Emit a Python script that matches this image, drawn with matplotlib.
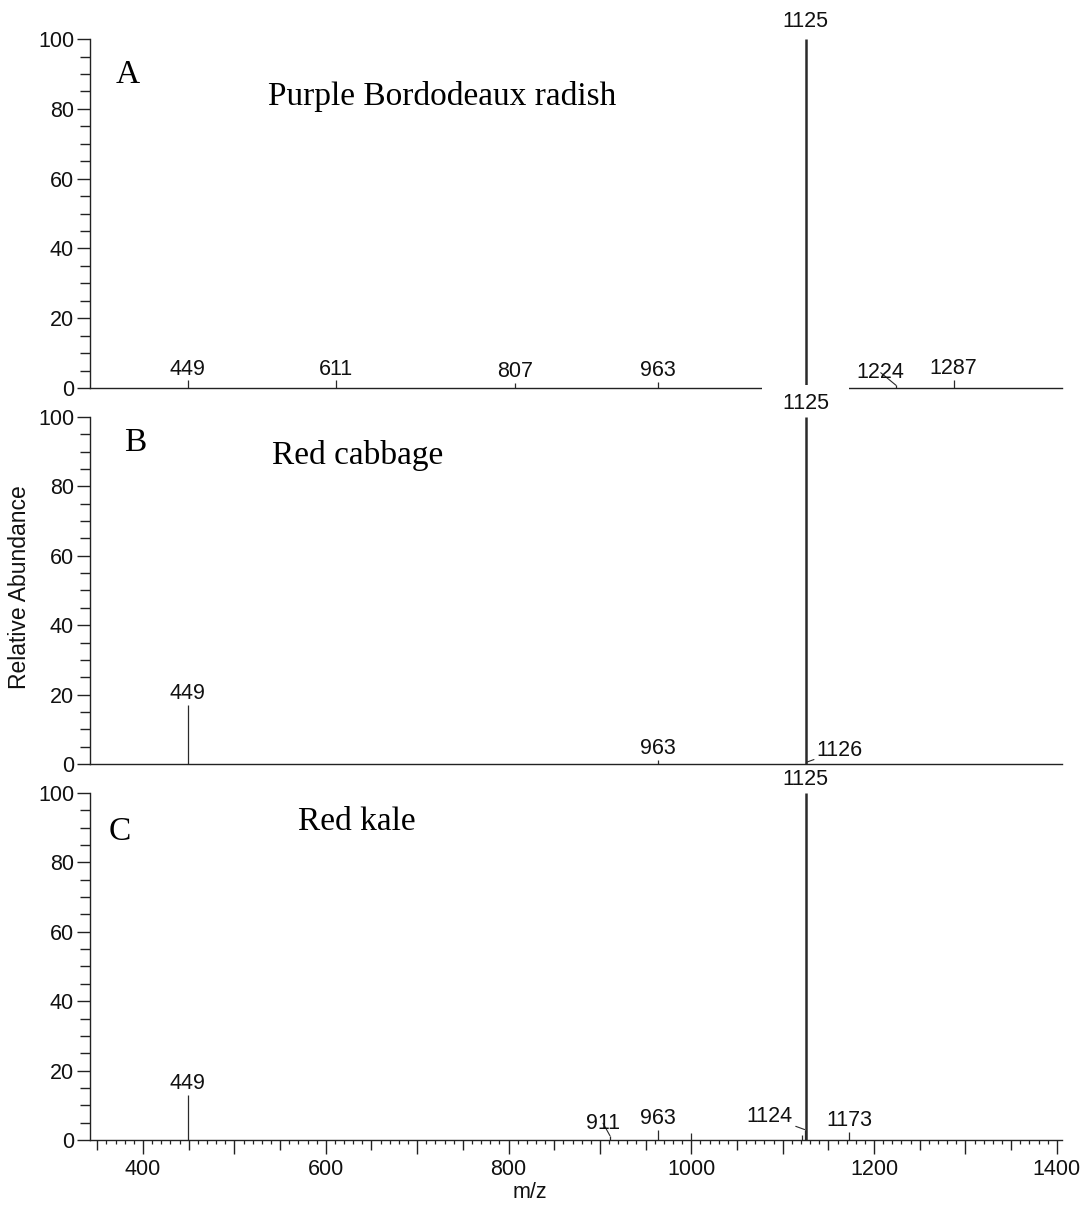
import matplotlib
matplotlib.use('Agg')
import matplotlib.pyplot as plt
from matplotlib.ticker import MultipleLocator, FuncFormatter

plt.rcParams['font.family'] = ['Liberation Sans', 'DejaVu Sans']

# peaks (m/z, relative abundance %)
mz_a = [449, 611, 807, 963, 1125, 1224, 1287]
ab_a = [2.2, 2.2, 1.5, 1.8, 100, 0.8, 2.3]
lab_a = [449, 611, 807, 963, 1125, 1224, 1287]

mz_b = [449, 963, 1125, 1126]
ab_b = [17, 1.2, 100, 0.5]
lab_b = [449, 963, 1125, 1126]

mz_c = [449, 911, 963, 1000, 1121, 1124, 1125, 1173]
ab_c = [13, 1.2, 3, 2, 1.3, 3, 100, 2.3]
lab_c = [449, 911, 963, 1124, 1125, 1173]

letters = ['A', 'B', 'C']
names = ['Purple Bordodeaux radish', 'Red cabbage', 'Red kale']

# layout
rects = [(0.0833, 0.679, 0.899, 0.2887),
         (0.0833, 0.3681, 0.899, 0.287),
         (0.0833, 0.0571, 0.899, 0.287)]
letter_pos = [(0.039, 0.897), (0.046, 0.925), (0.031, 0.888)]
name_pos = [(0.183, 0.834), (0.187, 0.888), (0.214, 0.916)]
# labels shifted sideways with a leader line (offset in points)
leaders = {1224: (-11, 1.5), 1126: (24, 1), 911: (-5, 1.5), 1124: (-25, 1.5)}
base_offset = [5, 2, 2.5]           # gap above the 100 % peak, points
mask_label = [False, True, False]   # white box behind the base peak label

fig = plt.figure(figsize=(10.81, 12.09), dpi=100)
line_col = '#2a2a2a'
txt_col = '#111111'

data = [(mz_a, ab_a, lab_a), (mz_b, ab_b, lab_b), (mz_c, ab_c, lab_c)]
axes = []
for i, (mz, ab, lab) in enumerate(data):
    ax = fig.add_axes(rects[i])
    axes.append(ax)
    ax.set_xlim(342, 1405.5)
    ax.set_ylim(0, 100)
    ax.spines['top'].set_visible(False)
    ax.spines['right'].set_visible(False)
    for s in ['left', 'bottom']:
        ax.spines[s].set_linewidth(1.0)
        ax.spines[s].set_color('#222222')

    ax.vlines(mz, 0, ab, colors=line_col, zorder=2,
              linewidths=[1.8 if a >= 100 else 0.9 for a in ab])

    ax.yaxis.set_major_locator(MultipleLocator(20))
    ax.yaxis.set_minor_locator(MultipleLocator(5))
    ax.tick_params(axis='y', which='major', length=9.5, width=1.0,
                   labelsize=15.5, pad=2, colors='#222222', labelcolor=txt_col)
    ax.tick_params(axis='y', which='minor', length=7, width=1.0, colors='#222222')

    for m, a in zip(mz, ab):
        if m not in lab:
            continue
        if m in leaders:
            ax.annotate(str(m), xy=(m, a), xytext=leaders[m],
                        textcoords='offset points', ha='center', va='bottom',
                        fontsize=15.5, color=txt_col,
                        arrowprops=dict(arrowstyle='-', lw=0.8, color=line_col,
                                        shrinkA=0, shrinkB=0))
        elif a >= 100:
            kw = {}
            if mask_label[i]:
                kw['bbox'] = dict(boxstyle='square,pad=0.4', fc='white', ec='none')
                txt = '  %d  ' % m
            else:
                txt = str(m)
            # drawn below the peaks of its own panel, above the panel before it
            ax.annotate(txt, xy=(m, a), xytext=(0, base_offset[i]),
                        textcoords='offset points', ha='center', va='bottom',
                        fontsize=15.5, color=txt_col, annotation_clip=False,
                        zorder=1.5, **kw)
        else:
            ax.annotate(str(m), xy=(m, a), xytext=(0, 0.5),
                        textcoords='offset points', ha='center', va='bottom',
                        fontsize=15.5, color=txt_col)

    ax.text(letter_pos[i][0], letter_pos[i][1], letters[i], transform=ax.transAxes,
            ha='center', va='center', fontsize=24, family='Liberation Serif')
    ax.text(name_pos[i][0], name_pos[i][1], names[i], transform=ax.transAxes,
            ha='left', va='center', fontsize=24, family='Liberation Serif')

    if i < 2:
        ax.tick_params(axis='x', which='both', bottom=False, labelbottom=False)

# x axis of the bottom panel
ax = axes[2]
ax.xaxis.set_major_locator(MultipleLocator(50))
ax.xaxis.set_minor_locator(MultipleLocator(10))
ax.xaxis.set_major_formatter(FuncFormatter(
    lambda v, p: '%d' % round(v) if round(v) % 200 == 0 else ''))
ax.tick_params(axis='x', which='major', length=7.5, width=1.0, labelsize=15.5,
               pad=6, colors='#222222', labelcolor=txt_col)
ax.tick_params(axis='x', which='minor', length=3, width=0.9, colors='#222222')
for loc, tick in zip(ax.get_xticks(), ax.xaxis.get_major_ticks()):
    if round(loc) % 100 == 0:
        tick.tick1line.set_markersize(10)
ax.text(0.453, -0.15, 'm/z', transform=ax.transAxes, ha='center', va='center',
        fontsize=15.5, color=txt_col)

fig.text(0.0185, 0.5145, 'Relative Abundance', rotation=90, ha='center',
         va='center', fontsize=16.5, color=txt_col)

fig.savefig('out.png', dpi=100)
